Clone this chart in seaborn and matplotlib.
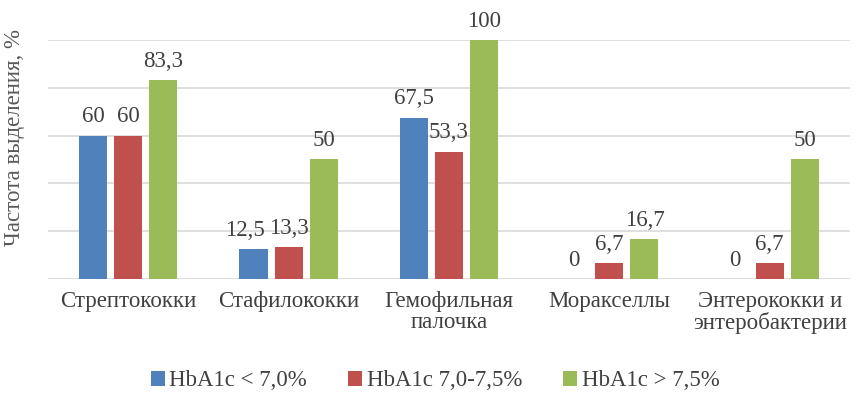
import pandas as pd
import numpy as np
import matplotlib
matplotlib.use('Agg')
import matplotlib.pyplot as plt
import seaborn as sns

# data
categories = ['Стрептококки', 'Стафилококки', 'Гемофильная\nпалочка',
              'Моракселлы', 'Энтерококки и\nэнтеробактерии']
groups = ['HbA1c < 7,0%', 'HbA1c 7,0-7,5%', 'HbA1c > 7,5%']
low = [60, 12.5, 67.5, 0, 0]
mid = [60, 13.3, 53.3, 6.7, 6.7]
high = [83.3, 50, 100, 16.7, 50]
colors = ['#4F81BD', '#C0504D', '#9BBB59']

df = pd.DataFrame({
    'cat': categories * 3,
    'grp': [groups[0]] * 5 + [groups[1]] * 5 + [groups[2]] * 5,
    'val': low + mid + high,
})

sns.set_style('white')
plt.rcParams['font.family'] = ['Liberation Serif', 'DejaVu Serif']
txt = '#404040'

fig = plt.figure(figsize=(8.62, 3.98), dpi=100)
ax = fig.add_axes([0.0557, 0.299, 0.9303, 0.6005])

sns.barplot(data=df, x='cat', y='val', hue='grp', palette=colors,
            saturation=1, width=0.656, gap=0.2, linewidth=0, ax=ax, legend=True)

# value labels with comma decimals
for i, cont in enumerate(ax.containers):
    labs = [('%g' % b.get_height()).replace('.', ',') for b in cont]
    anns = ax.bar_label(cont, labels=labs, padding=6, fontsize=16.5, color=txt)
    if i == 0:
        # the 12,5 label sits a bit to the left so it does not hit 13,3
        anns[1].xyann = (-6, 6)

ax.set_ylim(0, 100)
ax.set_yticks([0, 20, 40, 60, 80, 100])
ax.set_yticklabels([])
ax.tick_params(axis='y', length=0)
ax.tick_params(axis='x', length=0, labelsize=16.5, labelcolor=txt, pad=9)
for t in ax.get_xticklabels():
    t.set_linespacing(0.95)
ax.yaxis.grid(True, color='#D9D9D9', linewidth=1.2)
ax.set_axisbelow(True)
for s in ax.spines.values():
    s.set_visible(False)
ax.set_xlabel('')
ax.set_ylabel('Частота выделения, %', fontsize=16.5, color='#595959')
ax.yaxis.set_label_coords(-0.029, 0.594)

handles, labels = ax.get_legend_handles_labels()
ax.get_legend().remove()
fig.legend(handles, labels, loc='center', bbox_to_anchor=(0.505, 0.043), ncol=3,
           frameon=False, fontsize=16.5, handlelength=0.6, handleheight=0.6,
           handletextpad=0.2, columnspacing=1.8, labelcolor=txt)

fig.savefig('out.png', dpi=100)
